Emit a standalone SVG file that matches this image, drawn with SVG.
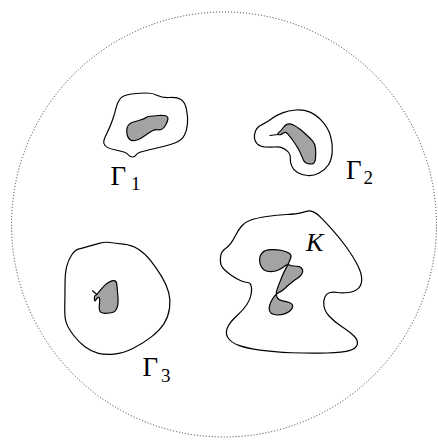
<svg xmlns="http://www.w3.org/2000/svg" width="438" height="441" viewBox="0 0 438 441">
<style>
.outer{fill:none;stroke:#000;stroke-width:1.2;stroke-linejoin:round}
.hole{fill:#a3a3a3;stroke:#000;stroke-width:1.2;stroke-linejoin:round}
.tail{fill:none;stroke:#000;stroke-width:1.2;stroke-linecap:round}
text{fill:#000;font-family:'Liberation Serif','Times New Roman',serif}
</style>
<rect width="438" height="441" fill="#fff"/>
<circle id="domain" cx="224" cy="224.5" r="212.5" fill="none" stroke="#333" stroke-width="1" stroke-dasharray="1,2"/>
<g id="gamma1">
<path class="outer" d="M120,99 Q123,95 131.5,94 Q140,93 146.5,93 Q153,93 157.5,95.5 Q162,98 169.5,97.5 Q177,97 181,99.5 Q185,102 186.5,109.5 Q188,117 187.5,123.5 Q187,130 184.5,135 Q182,140 176,142.5 Q170,145 159,147.5 Q148,150 142.5,151.5 Q137,153 136,155 Q135,157 132.5,157 Q130,157 128.5,155 Q127,153 124.5,152.25 Q122,151.5 114.5,149.75 Q107,148 105,145.5 Q103,143 104,140 Q105,137 107.5,132 Q110,127 112.5,120 Q115,113 116,108 Q117,103 120,99 Z"/>
<path class="hole" d="M128.5,125 Q130,123 133.5,122 Q137,121 141,119.75 Q145,118.5 146,117.5 Q147,116.5 150,116.25 Q153,116 158,115.5 Q163,115 165.75,115.75 Q168.5,116.5 167.75,119.75 Q167,123 165.25,125.75 Q163.5,128.5 161.75,129.25 Q160,130 157.5,129.75 Q155,129.5 152.5,130.75 Q150,132 146.5,134.5 Q143,137 140.5,138.5 Q138,140 134.75,140.5 Q131.5,141 129.75,139.5 Q128,138 127.25,135 Q126.5,132 126.75,129.5 Q127,127 128.5,125 Z"/>
<text font-size="27" x="110.5" y="184.5">Γ</text>
<text font-size="19" x="131" y="190">1</text>
</g>
<g id="gamma2">
<path class="outer" d="M255.5,131 Q257,127 262.5,124.35 Q268,121.7 272.35,118.35 Q276.7,115 282.5,112.85 Q288.3,110.7 295.8,110 Q303.3,109.3 310,112.15 Q316.7,115 322.5,121.65 Q328.3,128.3 330.5,135.8 Q332.7,143.3 332.2,151.65 Q331.7,160 328.35,165 Q325,170 319.15,173 Q313.3,176 307.5,175.5 Q301.7,175 297.5,172.5 Q293.3,170 291.65,165.85 Q290,161.7 290.35,158.35 Q290.7,155 288.7,152.5 Q286.7,150 283.35,148.35 Q280,146.7 275,147 Q270,147.3 265,147 Q260,146.7 257.5,144.2 Q255,141.7 254.5,138.35 Q254,135 255.5,131 Z"/>
<path class="hole" d="M279.2,132.15 Q281.7,130 283.35,127.5 Q285,125 287.5,124.15 Q290,123.3 293.35,125 Q296.7,126.7 300,129.2 Q303.3,131.7 306.65,135 Q310,138.3 312.5,140.8 Q315,143.3 315.5,148.3 Q316,153.3 315.5,158.3 Q315,163.3 312.5,163.8 Q310,164.3 307.5,163.5 Q305,162.7 304.15,161.35 Q303.3,160 301.65,155.85 Q300,151.7 297.5,147.5 Q295,143.3 292.5,140 Q290,136.7 288,134.2 Q286,131.7 284.65,132.5 Q283.3,133.3 281.65,134.15 Q280,135 278.35,134.65 Q276.7,134.3 279.2,132.15 Z"/>
<path class="tail" d="M270,135.5 L278,134.5"/>
<text font-size="27" x="346" y="178.5">Γ</text>
<text font-size="19" x="363.5" y="184">2</text>
</g>
<g id="gamma3">
<path class="outer" d="M65,285 Q65,273.3 66.65,266.65 Q68.3,260 71.65,255 Q75,250 78.35,249.15 Q81.7,248.3 87.5,246.65 Q93.3,245 99.15,243.35 Q105,241.7 110,242.5 Q115,243.3 123.35,244.15 Q131.7,245 138.35,249.15 Q145,253.3 150.85,260.8 Q156.7,268.3 161.7,276.65 Q166.7,285 168.7,292.5 Q170.7,300 169.5,308.35 Q168.3,316.7 164.15,323.35 Q160,330 151.65,336.65 Q143.3,343.3 133.3,348.3 Q123.3,353.3 114.15,354.15 Q105,355 98.35,353.35 Q91.7,351.7 85,346.7 Q78.3,341.7 73.3,335 Q68.3,328.3 66.4,323.15 Q64.5,318 64.75,307.35 Q65,296.7 65,285 Z"/>
<path class="hole" d="M99.2,291.65 Q101.7,288.3 104.2,285.8 Q106.7,283.3 110,281.65 Q113.3,280 115,280.85 Q116.7,281.7 117,285.85 Q117.3,290 117.8,295 Q118.3,300 118,303.35 Q117.7,306.7 116.35,309.2 Q115,311.7 112.5,312.5 Q110,313.3 105,313.3 Q100,313.3 99.5,310 Q99,306.7 99.5,303.35 Q100,300 99.5,298.35 Q99,296.7 97.85,297.5 Q96.7,298.3 95.85,300 Q95,301.7 94.65,300.35 Q94.3,299 94.4,297.25 Q94.5,295.5 95.6,295.25 Q96.7,295 99.2,291.65 Z"/>
<path class="tail" d="M92.5,290.8 L96.6,294.3"/>
<text font-size="27" x="142.5" y="376">Γ</text>
<text font-size="19" x="161" y="381.5">3</text>
</g>
<g id="K">
<path class="outer" d="M220.5,257 Q221,252 224.65,249.35 Q228.3,246.7 230.8,243.35 Q233.3,240 235.8,235 Q238.3,230 241.65,226 Q245,222 250.85,220 Q256.7,218 266.7,216.5 Q276.7,215 286.7,214.5 Q296.7,214 300.85,212.85 Q305,211.7 307.5,211.1 Q310,210.5 313.35,211.9 Q316.7,213.3 321.7,218.3 Q326.7,223.3 333.35,230.8 Q340,238.3 346.65,247.5 Q353.3,256.7 357.5,265 Q361.7,273.3 361.7,279.15 Q361.7,285 358.35,288.35 Q355,291.7 348.35,292.5 Q341.7,293.3 337.5,292.5 Q333.3,291.7 330,292.5 Q326.7,293.3 325,296.65 Q323.3,300 323.9,305.5 Q324.5,311 329.25,316.25 Q334,321.5 342,326.75 Q350,332 354,336 Q358,340 357.35,344.15 Q356.7,348.3 350,350.4 Q343.3,352.5 326.65,353 Q310,353.5 291.65,352.75 Q273.3,352 260,350.15 Q246.7,348.3 238.85,345.4 Q231,342.5 228,337.75 Q225,333 227.5,327.5 Q230,322 236.65,316 Q243.3,310 246.9,304.5 Q250.5,299 251.25,293.5 Q252,288 251,285.25 Q250,282.5 247.5,282.5 Q245,282.5 240.85,280.75 Q236.7,279 232.35,276 Q228,273 225,270.25 Q222,267.5 221,264.75 Q220,262 220.5,257 Z"/>
<path class="hole" d="M262.5,252.5 Q265,250 270.85,249.65 Q276.7,249.3 281.7,250.5 Q286.7,251.7 289.2,253.35 Q291.7,255 290.85,257.5 Q290,260 288.85,262.5 Q287.7,265 285.5,269.15 Q283.3,273.3 281.65,277.5 Q280,281.7 278.35,285.85 Q276.7,290 276.35,292.5 Q276,295 277.15,297.5 Q278.3,300 282.5,300.85 Q286.7,301.7 289.2,302.5 Q291.7,303.3 292.5,305 Q293.3,306.7 291.65,309.2 Q290,311.7 285.85,313.35 Q281.7,315 277.5,315 Q273.3,315 271.15,313.35 Q269,311.7 269.15,308.35 Q269.3,305 271,301.65 Q272.7,298.3 274.35,296.3 Q276,294.3 278,293 Q280,291.7 281.65,290.85 Q283.3,290 285.8,287.5 Q288.3,285 291.65,282.5 Q295,280 297.5,278.35 Q300,276.7 301.65,274.2 Q303.3,271.7 302.5,269.5 Q301.7,267.3 299.2,266.65 Q296.7,266 294.2,266 Q291.7,266 289.5,265 Q287.3,264 284.5,266.15 Q281.7,268.3 278.35,270 Q275,271.7 270.85,271.7 Q266.7,271.7 264.2,270 Q261.7,268.3 260.5,265 Q259.3,261.7 259.65,258.35 Q260,255 262.5,252.5 Z"/>
<text font-size="26" font-style="italic" x="306" y="251">K</text>
</g>
</svg>
